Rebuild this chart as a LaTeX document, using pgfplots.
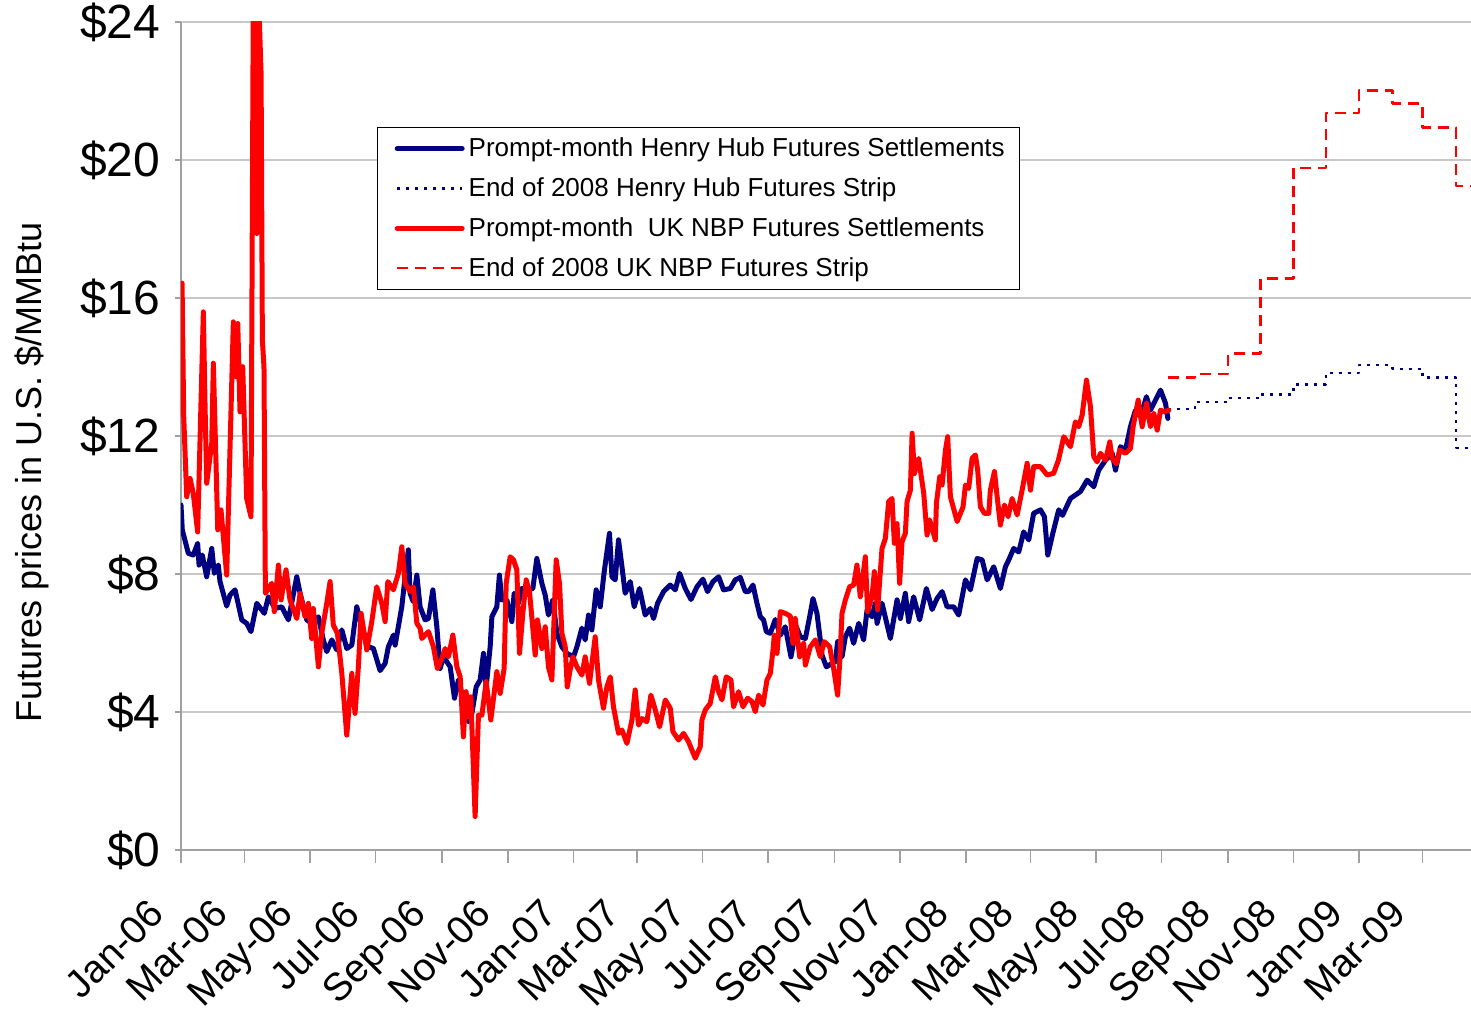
\documentclass[border=0pt]{standalone}
\usepackage{pgfplots}
\pgfplotsset{compat=1.18}
\usepackage{fontspec}
\setmainfont{Liberation Sans}
\definecolor{hhblue}{RGB}{0,0,128}
\definecolor{nbpred}{RGB}{255,0,0}
\definecolor{gridgray}{RGB}{200,200,200}
\definecolor{axisgray}{RGB}{160,160,160}

\pgfplotstableread{
d y
0 10.0
1.2 9.28
6.8 8.6
11.4 8.55
15.5 8.89
16.8 8.26
19.8 8.55
23.9 7.92
28.6 8.74
31 8.02
34.7 8.26
36.3 7.78
42.5 7.07
45.6 7.39
50.3 7.54
56.5 6.67
61.1 6.57
65.1 6.33
70.5 7.15
77.5 6.86
81.3 7.34
87.5 7.0
93.7 7.05
99.9 6.67
107.7 7.92
110.8 7.44
117 6.67
121.6 6.57
127.8 6.76
132.4 6.09
135.6 5.75
140.3 6.09
144.9 5.80
149.6 6.38
154.2 5.84
158.9 5.94
163.5 7.05
168.2 6.47
174.3 5.89
179 5.84
185.2 5.20
189.9 5.41
192.9 5.89
197.6 6.23
199.2 5.94
205.4 7.05
208.5 7.92
211.5 8.70
213.1 7.44
216 7.2
219.4 7.97
222.4 7.05
227.1 6.67
230.2 6.71
234.3 7.54
238 6.47
241 5.26
244.1 5.60
250.4 5.31
254.4 4.40
258.1 4.93
262.7 4.35
267.4 3.72
270.6 3.96
274.6 4.73
278.3 4.93
281.4 5.70
283.9 4.73
287.6 5.89
289.2 6.76
293.8 7.05
296.2 7.97
298.5 7.25
303.1 7.25
307.8 6.62
309.9 7.44
313.9 7.15
317.1 7.58
323.2 7.54
327.3 7.58
331 8.45
335.7 7.73
338.8 7.39
341.8 6.81
345.9 7.25
349.7 6.28
354.3 5.89
359 5.70
365.1 5.60
368.3 5.89
372.9 6.43
376 6.09
379.1 6.81
382.2 6.38
386.2 7.54
390 7.05
393.7 8.07
398.6 9.18
400.9 7.92
403.9 7.83
407 8.99
410.2 8.21
413.2 7.44
417.9 7.78
421.6 7.05
426.5 7.58
431.8 6.81
436.5 7.0
439.6 6.71
443.3 7.15
448.9 7.49
455.1 7.68
459.8 7.54
463.8 8.02
469.1 7.58
474.4 7.26
480 7.63
485.5 7.85
489.8 7.49
494.9 7.78
500.1 7.92
504.7 7.54
511 7.58
515.6 7.83
520.3 7.90
524.9 7.49
528 7.49
532.1 7.68
535.8 7.15
538.9 6.76
541.9 6.67
544.5 6.33
548.2 6.28
552.8 6.68
557.5 6.23
562.1 6.47
567.4 5.60
572.4 6.47
576.1 6.18
580.8 6.13
584.8 6.76
587.9 7.29
591.6 6.86
594.7 6.09
596.3 5.65
600.3 5.31
605.6 5.41
608.7 5.46
610.8 6.04
614.9 5.60
618 6.18
622 6.43
625.7 5.99
630.4 6.57
635 6.09
638.2 6.96
642.8 6.76
645.9 7.15
647.5 6.57
652.1 7.15
659.9 6.13
666.1 7.25
669.2 6.71
673.8 7.44
676.9 6.62
681.5 7.34
687.1 6.67
693.4 7.58
698.7 6.97
703.3 7.29
708 7.49
712.6 7.05
718.8 7.05
723.4 6.81
729.7 7.83
734.3 7.54
740.6 8.45
745.2 8.41
749.9 7.83
756 8.21
762.2 7.58
766.9 8.21
770 8.41
774.6 8.74
779.3 8.64
783.9 9.22
788.6 8.99
793.2 9.76
799.5 9.86
803.2 9.66
806.3 8.55
811.3 9.22
816.5 9.86
820 9.7
827.4 10.19
836.7 10.39
842.9 10.72
849.1 10.53
853.7 11.01
860 11.30
866.2 11.50
869.3 11.01
873.9 11.69
878.6 11.59
883.2 12.27
887.9 12.75
892.5 12.56
898.1 13.14
901.8 12.75
906.5 13.04
911.2 13.33
915.8 12.95
918 12.51
}\hhdata

\pgfplotstableread{
d y
0 12.7
1 16.43
2.5 12.6
5.3 10.24
8.4 10.77
11.4 10.34
15.5 9.22
20.8 15.6
22.3 13.0
23.9 10.63
28.6 11.79
30.1 14.11
34.2 9.28
37.2 9.86
42.5 7.97
48.7 15.31
51.2 13.72
52.8 15.26
54.9 12.70
57.4 14.01
61.1 10.19
65.1 9.66
67.3 25
70.5 17.87
71.9 25
74.5 22.51
75.7 14.78
77.2 14.0
78.5 7.44
84.4 7.73
86.8 6.91
90.6 8.26
93.1 7.25
97.7 8.12
101.4 7.25
107.7 6.71
110.8 7.44
115.4 6.76
118.5 7.15
121.6 6.13
123.1 7.0
127.8 5.31
130.9 6.28
135.6 7.15
138.7 7.78
141.7 6.52
145.5 6.28
149.6 5.12
154.2 3.33
158.9 5.12
161.9 3.96
165 5.31
167.5 6.86
172.8 5.80
177.5 6.62
182.1 7.63
186.8 7.15
189.9 6.62
192.4 7.78
197.6 7.54
202.2 8.02
205.4 8.79
208.5 7.73
213.1 7.49
216.2 7.63
219.4 6.57
222.4 6.43
224 6.13
230.2 6.33
234.8 5.89
238.5 5.26
242.6 5.55
245.7 5.84
248.8 5.60
252.9 6.23
256.6 5.31
259.7 5.02
262.7 3.28
265.2 4.59
267.4 3.86
269.6 4.44
273.6 0.97
276.7 3.91
279.9 3.91
283.9 4.88
288.2 3.77
293.8 5.17
296.9 4.54
300.6 5.26
302.5 7.73
306.2 8.50
309.3 8.41
312.4 8.12
314.9 5.70
318 6.86
321.1 7.83
324.2 7.49
329.5 5.65
331.6 6.67
335.7 5.84
338.8 6.47
341.8 5.31
345 4.93
349 8.41
352.1 7.73
354.3 6.28
357.4 5.9
359.3 4.73
362 5.22
364.6 5.60
368.3 5.31
372.9 5.07
376 5.60
380 4.83
385.3 6.18
388.4 4.93
393 4.11
396.2 4.73
399.3 5.02
402.3 4.15
407 3.38
410.2 3.48
414.8 3.09
419.5 3.77
422.5 4.64
425.6 3.62
428.8 3.81
433.4 3.72
437.1 4.49
441.2 4.06
445.2 3.57
450.5 4.35
455.1 4.11
457.6 3.43
462.8 3.19
467.5 3.38
472.1 3.14
478.4 2.66
483 2.99
484.6 3.77
487.7 4.06
492.3 4.25
497 5.02
500.1 4.59
503.2 4.35
507.2 5.02
511.6 4.93
514 4.15
518.7 4.59
522.8 4.15
527.1 4.40
531.2 4.30
534.2 4.01
537.3 4.49
541.4 4.20
545.1 4.93
548.2 5.12
550.7 5.80
551.9 6.23
554.4 5.70
557.5 6.91
562.1 6.86
566.8 6.78
569.3 5.99
571.4 6.71
575.5 5.60
579.2 5.99
580.8 5.36
585.4 5.89
590.1 6.09
594.7 5.60
598.4 6.04
603.4 5.89
607.1 5.26
610.8 4.49
612.7 5.41
614.9 6.86
618 7.25
622 7.63
625.7 7.68
628.8 8.26
631.9 7.34
636.6 8.50
638.7 6.91
642.8 7.34
645 8.07
648 6.96
652.1 8.74
655.2 9.03
658.3 10.10
661.4 10.19
663.6 8.89
666.1 9.46
668.5 7.73
670.7 8.93
673.8 9.18
675.4 10.10
678.5 10.43
680.1 12.08
682.2 10.91
686.2 11.35
690.9 10.34
694 9.13
696.4 9.57
701.7 8.99
702.7 10.05
705.8 10.82
708 10.58
711.1 11.59
713.2 11.98
715.7 10.24
722 9.52
727.5 9.95
729.7 10.58
732.7 10.48
735.9 11.35
739 11.45
741.1 11.01
743.6 9.95
747.3 9.76
751.4 9.76
752.9 10.43
756.7 10.97
759.2 10.24
762.2 9.42
766 10.0
769.4 9.66
773.1 10.19
777.8 9.71
782.4 10.43
787.1 11.21
790.2 10.43
793.2 11.11
799.5 11.11
805.7 10.87
811.8 10.92
816.2 11.3
821.2 11.98
827.4 11.69
832 12.41
835.1 12.27
838.3 12.61
842.3 13.62
846 12.85
849.1 11.40
852.2 11.25
855.3 11.50
860 11.30
864 11.83
866.2 11.35
870.2 11.20
873.3 11.59
878.6 11.50
883.2 11.64
885.7 12.27
890.4 13.04
894.1 12.27
898.1 12.95
901.8 12.27
904.9 12.66
908.1 12.17
911.2 12.75
914.2 12.70
918.9 12.75
}\nbpdata

\pgfplotstableread{
d y
918 12.78
943 12.99
974 13.10
1004 13.20
1035 13.49
1065 13.83
1096 14.05
1127 13.95
1155 13.69
1186 11.66
1200 11.66
}\hhstrip

\pgfplotstableread{
d y
918 13.69
943 13.80
974 14.39
1004 16.56
1035 19.76
1065 21.37
1096 22.01
1127 21.64
1155 20.94
1186 19.25
1200 19.25
}\nbpstrip

\begin{document}
\begin{tikzpicture}
\begin{axis}[
  name=ax,
  scale only axis,
  width=645pt, height=414pt,
  xmin=0, xmax=1200, ymin=0, ymax=24,
  axis x line*=bottom, axis y line*=left,
  axis line style={-, draw=axisgray, line width=0.75pt},
  ymajorgrids,
  major grid style={draw=gridgray, line width=0.75pt},
  tick align=outside,
  xtick style={draw=axisgray, line width=0.75pt, /pgfplots/major tick length=6.5pt},
  ytick style={draw=axisgray, line width=0.75pt, /pgfplots/major tick length=3pt},
  ytick={0,4,8,12,16,20,24},
  yticklabels={\$0,\$4,\$8,\$12,\$16,\$20,\$24},
  xtick={0,59,120,181,243,304,365,424,485,546,608,669,730,790,851,912,974,1035,1096,1155},
  xticklabels={Jan-06,Mar-06,May-06,Jul-06,Sep-06,Nov-06,Jan-07,Mar-07,May-07,Jul-07,Sep-07,Nov-07,Jan-08,Mar-08,May-08,Jul-08,Sep-08,Nov-08,Jan-09,Mar-09},
  yticklabel style={font=\fontsize{24}{26}\selectfont, xshift=-2.5pt},
  xticklabel style={font=\fontsize{19.5}{21}\selectfont, xshift=-17pt, yshift=-19pt, rotate=45, anchor=north east, inner sep=0pt},
  ylabel={Futures prices in U.S. \$/MMBtu},
  ylabel style={font=\fontsize{18}{20}\selectfont, at={(rel axis cs:-0.1155,0.4565)}, anchor=center},
  legend cell align=left,
  legend style={at={(rel axis cs:0.152,0.873)}, anchor=north west, draw=black, line width=0.6pt,
    font=\fontsize{13}{15}\selectfont, row sep=5pt, inner xsep=5.5pt, inner ysep=3pt, fill=white},
  legend image code/.code={\path (0pt,0pt); \draw[#1] (3pt,0pt) -- (35.5pt,0pt);},
  every axis plot/.append style={mark=none, line join=round},
]
\addplot[draw=hhblue, line width=2.5pt, line cap=round] table[x=d,y=y] {\hhdata};
\addlegendentry{Prompt-month Henry Hub Futures Settlements}
\addplot[draw=hhblue, line width=1.2pt, dash pattern=on 1.5pt off 3pt, const plot] table[x=d,y=y] {\hhstrip};
\addlegendentry{End of 2008 Henry Hub Futures Strip}
\addplot[draw=nbpred, line width=2.5pt, line cap=round] table[x=d,y=y] {\nbpdata};
\addlegendentry{Prompt-month\ \ UK NBP Futures Settlements}
\addplot[draw=nbpred, line width=1.2pt, dash pattern=on 5.5pt off 3.5pt, const plot] table[x=d,y=y] {\nbpstrip};
\addlegendentry{End of 2008 UK NBP Futures Strip}
\end{axis}
\pgfresetboundingbox
\path[use as bounding box] ([xshift=-90.5pt,yshift=-81.5pt]ax.south west) rectangle ([yshift=11pt]ax.north east);
\end{tikzpicture}
\end{document}
